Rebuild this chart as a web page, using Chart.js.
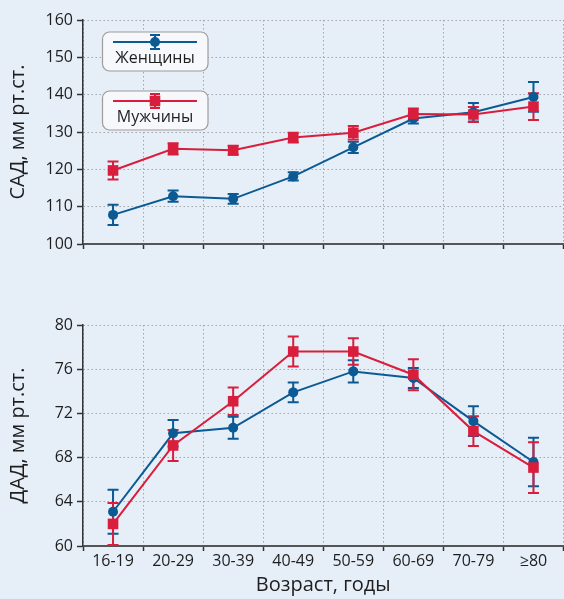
<!DOCTYPE html>
<html>
<head>
<meta charset="utf-8">
<script src="https://cdn.jsdelivr.net/npm/chart.js@4.4.1/dist/chart.umd.min.js"></script>
<style>
  html, body { margin: 0; padding: 0; background: #e6eef8; width: 564px; height: 599px; overflow: hidden; }
  #wrap { position: relative; width: 564px; height: 599px; }
  canvas { position: absolute; left: 0; }
</style>
</head>
<body>
<div id="wrap">
  <canvas id="sad-chart" width="571" height="262" style="top:0"></canvas>
  <canvas id="dad-chart" width="571" height="329" style="top:270px"></canvas>
</div>
<script>
const ageGroups = ['16-19', '20-29', '30-39', '40-49', '50-59', '60-69', '70-79', '≥80'];

// САД
const sadWomen    = [107.8, 112.8, 112.1, 118.1, 125.9, 133.6, 135.3, 139.4];
const sadWomenErr = [2.7, 1.5, 1.3, 1.1, 1.5, 1.3, 2.5, 4.0];
const sadMen      = [119.7, 125.5, 125.1, 128.5, 129.8, 134.8, 134.7, 136.8];
const sadMenErr   = [2.4, 1.5, 1.2, 1.3, 1.8, 1.5, 2.0, 3.6];

// ДАД
const dadWomen    = [63.1, 70.2, 70.7, 73.9, 75.8, 75.2, 71.3, 67.6];
const dadWomenErr = [2.0, 1.2, 1.0, 0.9, 1.0, 0.9, 1.35, 2.2];
const dadMen      = [62.0, 69.1, 73.1, 77.6, 77.6, 75.5, 70.4, 67.1];
const dadMenErr   = [1.9, 1.4, 1.25, 1.35, 1.2, 1.4, 1.35, 2.3];

const BLUE = '#0b5a94';
const RED  = '#d81e3c';
const FONT = "'Open Sans', 'Noto Sans', sans-serif";
const TEXT = '#1e1e1e';

const errorBars = {
  id: 'errorBars',
  beforeDatasetsDraw(chart) {
    const { ctx } = chart;
    const y = chart.scales.y;
    const idx = chart.data.datasets.map((_, i) => i)
      .sort((a, b) => (chart.data.datasets[b].order || 0) - (chart.data.datasets[a].order || 0));
    idx.forEach(i => {
      const ds = chart.data.datasets[i];
      const meta = chart.getDatasetMeta(i);
      ctx.save();
      ctx.strokeStyle = ds.borderColor;
      ctx.lineWidth = 2;
      meta.data.forEach((pt, j) => {
        const top = y.getPixelForValue(ds.data[j] + ds.errors[j]);
        const bot = y.getPixelForValue(ds.data[j] - ds.errors[j]);
        ctx.beginPath();
        ctx.moveTo(pt.x, top); ctx.lineTo(pt.x, bot);
        ctx.moveTo(pt.x - 5.5, top); ctx.lineTo(pt.x + 5.5, top);
        ctx.moveTo(pt.x - 5.5, bot); ctx.lineTo(pt.x + 5.5, bot);
        ctx.stroke();
      });
      ctx.restore();
    });
  }
};

function legendItem(ctx, top, color, style, label) {
  ctx.save();
  ctx.fillStyle = '#f6f8fb';
  ctx.strokeStyle = '#9c9c9c';
  ctx.lineWidth = 1.2;
  ctx.beginPath();
  ctx.roundRect(102.5, top, 105.5, 39, 7);
  ctx.fill(); ctx.stroke();
  const ly = top + 10;
  ctx.strokeStyle = color; ctx.fillStyle = color; ctx.lineWidth = 2;
  ctx.beginPath();
  ctx.moveTo(113, ly); ctx.lineTo(197, ly);
  ctx.moveTo(155, ly - 7); ctx.lineTo(155, ly + 7);
  ctx.moveTo(150, ly - 7); ctx.lineTo(160, ly - 7);
  ctx.moveTo(150, ly + 7); ctx.lineTo(160, ly + 7);
  ctx.stroke();
  ctx.beginPath();
  if (style === 'rect') ctx.rect(149.7, ly - 5.3, 10.6, 10.6);
  else ctx.arc(155, ly, 5, 0, Math.PI * 2);
  ctx.fill();
  ctx.fillStyle = TEXT;
  ctx.font = '16px ' + FONT;
  ctx.textAlign = 'center';
  ctx.textBaseline = 'alphabetic';
  ctx.fillText(label, 155, top + 31);
  ctx.restore();
}

const legendBoxes = {
  id: 'legendBoxes',
  afterDraw(chart) {
    legendItem(chart.ctx, 32, BLUE, 'circle', 'Женщины');
    legendItem(chart.ctx, 91, RED, 'rect', 'Мужчины');
  }
};

function makeDatasets(women, womenErr, men, menErr) {
  return [
    { label: 'Женщины', data: women, errors: womenErr, borderColor: BLUE, backgroundColor: BLUE,
      borderWidth: 2, pointStyle: 'circle', pointRadius: 5, pointBorderWidth: 0, order: 1, clip: false },
    { label: 'Мужчины', data: men, errors: menErr, borderColor: RED, backgroundColor: RED,
      borderWidth: 2, pointStyle: 'rect', pointRadius: 7.5, pointBorderWidth: 0, order: 0, clip: false },
  ];
}

function makeOptions(yMin, yMax, step, yTitle, showX, padTop) {
  return {
    responsive: false,
    animation: false,
    layout: { padding: { top: padTop, left: 0, right: 0, bottom: 0 } },
    plugins: { legend: { display: false }, tooltip: { enabled: false } },
    elements: { line: { tension: 0 } },
    scales: {
      x: {
        type: 'category',
        offset: true,
        grid: { offset: true, color: '#a3a6ad', lineWidth: 1, tickColor: '#333', tickLength: 5, tickWidth: 1.5 },
        border: { color: '#555', width: 2, dash: [1.5, 2.5] },
        ticks: { display: showX, color: TEXT, font: { family: FONT, size: 16 }, padding: 1, maxRotation: 0 },
        title: { display: showX, text: 'Возраст, годы', color: TEXT, font: { family: FONT, size: 20 }, padding: { top: 0, bottom: 2 } },
        afterFit(s) { s.height = showX ? 53 : 18; },
      },
      y: {
        min: yMin, max: yMax,
        ticks: { stepSize: step, color: TEXT, font: { family: FONT, size: 16 }, padding: 4 },
        grid: { color: '#a3a6ad', lineWidth: 1, tickColor: '#333', tickLength: 6, tickWidth: 1.5 },
        border: { color: '#333', width: 1.5, dash: [1.5, 2.5] },
        title: { display: true, text: yTitle, color: TEXT, font: { family: FONT, size: 20 }, padding: { top: 6, bottom: 0 } },
        afterFit(s) { s.width = 83; },
      },
    },
  };
}

new Chart(document.getElementById('sad-chart'), {
  type: 'line',
  data: { labels: ageGroups, datasets: makeDatasets(sadWomen, sadWomenErr, sadMen, sadMenErr) },
  options: makeOptions(100, 160, 10, 'САД, мм рт.ст.', false, 20),
  plugins: [errorBars, legendBoxes],
});

new Chart(document.getElementById('dad-chart'), {
  type: 'line',
  data: { labels: ageGroups, datasets: makeDatasets(dadWomen, dadWomenErr, dadMen, dadMenErr) },
  options: makeOptions(60, 80, 4, 'ДАД, мм рт.ст.', true, 55),
  plugins: [errorBars],
});
</script>
</body>
</html>
